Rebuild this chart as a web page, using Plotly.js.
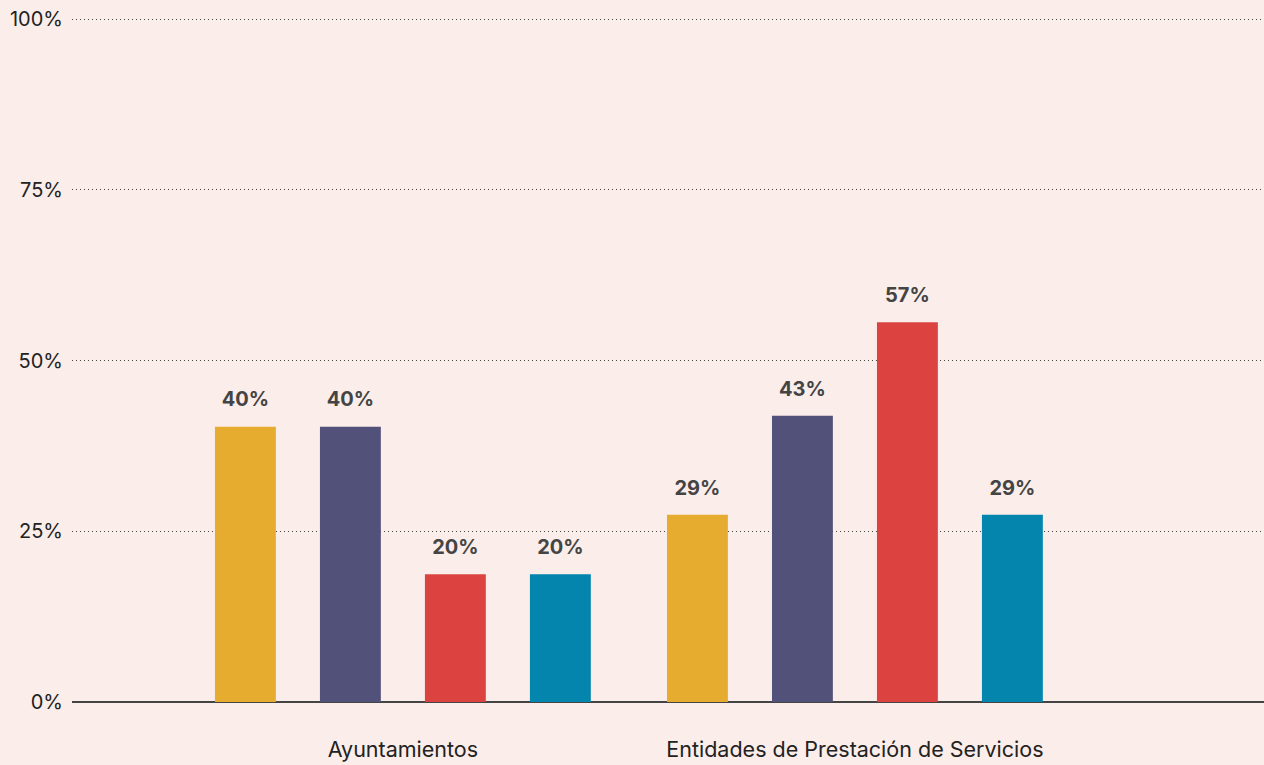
<!DOCTYPE html>
<html>
<head>
<meta charset="utf-8">
<script src="https://cdn.plot.ly/plotly-3.0.1.min.js"></script>
<style>html,body{margin:0;padding:0;background:#FBEDEA;}#chart{width:1264px;height:765px;}</style>
</head>
<body>
<div id="chart"></div>
<script>
const categories = ["Ayuntamientos", "Entidades de Prestación de Servicios"];
const seriesNames = ["Serie 1", "Serie 2", "Serie 3", "Serie 4"];
const seriesColors = ["#E5AC30", "#52517A", "#DC4340", "#0385AE"];
// bar heights as drawn (percent)
const serie1 = [40.3, 27.4];
const serie2 = [40.3, 41.9];
const serie3 = [18.7, 55.6];
const serie4 = [18.7, 27.4];
// labels printed above bars
const labels1 = ["40%", "29%"];
const labels2 = ["40%", "43%"];
const labels3 = ["20%", "57%"];
const labels4 = ["20%", "29%"];
const yTickVals = [0, 25, 50, 75, 100];
const yTickText = ["0%", "25%", "50%", "75%", "100%"];

const allValues = [serie1, serie2, serie3, serie4];
const allLabels = [labels1, labels2, labels3, labels4];

const traces = allValues.map((vals, i) => ({
  type: "bar",
  name: seriesNames[i],
  x: categories,
  y: vals,
  text: allLabels[i],
  texttemplate: "<span style='font-size:20px'>%{text}</span><br> ",
  textposition: "outside",
  cliponaxis: false,
  constraintext: "none",
  textfont: {family: "Inter, 'Noto Sans', sans-serif", size: 11, color: "#444444", weight: 700},
  marker: {color: seriesColors[i], line: {width: 0}},
  hoverinfo: "skip"
}));

const layout = {
  width: 1264,
  height: 765,
  paper_bgcolor: "#FBEDEA",
  plot_bgcolor: "#FBEDEA",
  margin: {l: 72, r: 0, t: 17, b: 63},
  showlegend: false,
  barmode: "group",
  bargap: 0.071,
  bargroupgap: 0.42,
  font: {family: "Inter, 'Noto Sans', sans-serif", color: "#222222", size: 20},
  xaxis: {
    type: "category",
    range: [-0.732, 1.905],
    showgrid: false,
    zeroline: false,
    showline: false,
    ticks: "",
    ticklabelstandoff: 32,
    tickfont: {size: 21.5, color: "#222222"}
  },
  yaxis: {
    range: [0, 100.3],
    tickvals: yTickVals,
    ticktext: yTickText,
    showgrid: true,
    gridcolor: "#444444",
    griddash: "1px,3px",
    gridwidth: 1,
    zeroline: true,
    zerolinecolor: "#444444",
    zerolinewidth: 1.5,
    showline: false,
    ticks: "",
    ticklabelstandoff: 8,
    tickfont: {size: 20, color: "#222222"}
  }
};

Plotly.newPlot("chart", traces, layout, {staticPlot: true, displayModeBar: false});
</script>
</body>
</html>
